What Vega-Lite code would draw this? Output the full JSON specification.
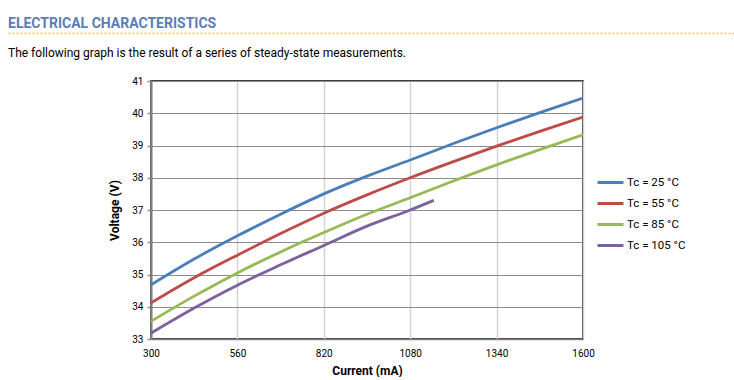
{
  "$schema": "https://vega.github.io/schema/vega-lite/v6.json",
  "padding": {"left": 8, "top": 17, "right": 0, "bottom": 0},
  "background": "white",
  "spacing": 13,
  "columns": 1,
  "config": {
    "font": "Roboto",
    "view": {"stroke": "#000000", "strokeWidth": 1.5},
    "axis": {"labelFont": "Roboto", "titleFont": "Roboto", "labelColor": "#000000", "titleColor": "#000000"}
  },
  "concat": [
    {
      "width": 726,
      "height": 1,
      "view": {"stroke": null},
      "title": {
        "text": "ELECTRICAL CHARACTERISTICS",
        "anchor": "start",
        "frame": "group",
        "baseline": "alphabetic",
        "offset": -9,
        "font": "Roboto",
        "fontSize": 14,
        "fontWeight": "bold",
        "color": "#5b7db8"
      },
      "data": {"values": []},
      "mark": {"type": "point", "opacity": 0},
      "encoding": {
        "x": {
          "field": "a",
          "type": "quantitative",
          "scale": {"domain": [0, 1]},
          "axis": {"orient": "top", "labels": false, "ticks": false, "grid": false, "title": null, "domainColor": "#f2c94c", "domainDash": [2, 2], "domainWidth": 1.5}
        }
      }
    },
    {
      "title": {
        "text": "The following graph is the result of a series of steady-state measurements.",
        "anchor": "start",
        "frame": "group",
        "baseline": "alphabetic",
        "offset": 6,
        "font": "Roboto",
        "fontSize": 12,
        "fontWeight": "normal",
        "color": "#000000"
      },
      "spacing": 20,
      "hconcat": [
        {
          "width": 80,
          "height": 1,
          "view": {"stroke": null},
          "data": {"values": []},
          "mark": {"type": "point", "opacity": 0},
          "encoding": {}
        },
        {
          "width": 432,
          "height": 258,
          "data": {
            "values": [
              {"current": 300, "voltage": 34.68, "series": "Tc = 25 °C"},
              {"current": 430, "voltage": 35.48, "series": "Tc = 25 °C"},
              {"current": 560, "voltage": 36.2, "series": "Tc = 25 °C"},
              {"current": 690, "voltage": 36.87, "series": "Tc = 25 °C"},
              {"current": 820, "voltage": 37.5, "series": "Tc = 25 °C"},
              {"current": 950, "voltage": 38.05, "series": "Tc = 25 °C"},
              {"current": 1080, "voltage": 38.55, "series": "Tc = 25 °C"},
              {"current": 1210, "voltage": 39.06, "series": "Tc = 25 °C"},
              {"current": 1340, "voltage": 39.55, "series": "Tc = 25 °C"},
              {"current": 1470, "voltage": 40.02, "series": "Tc = 25 °C"},
              {"current": 1600, "voltage": 40.47, "series": "Tc = 25 °C"},
              {"current": 300, "voltage": 34.12, "series": "Tc = 55 °C"},
              {"current": 430, "voltage": 34.9, "series": "Tc = 55 °C"},
              {"current": 560, "voltage": 35.6, "series": "Tc = 55 °C"},
              {"current": 690, "voltage": 36.27, "series": "Tc = 55 °C"},
              {"current": 820, "voltage": 36.9, "series": "Tc = 55 °C"},
              {"current": 950, "voltage": 37.47, "series": "Tc = 55 °C"},
              {"current": 1080, "voltage": 38.0, "series": "Tc = 55 °C"},
              {"current": 1210, "voltage": 38.5, "series": "Tc = 55 °C"},
              {"current": 1340, "voltage": 38.98, "series": "Tc = 55 °C"},
              {"current": 1470, "voltage": 39.44, "series": "Tc = 55 °C"},
              {"current": 1600, "voltage": 39.88, "series": "Tc = 55 °C"},
              {"current": 300, "voltage": 33.55, "series": "Tc = 85 °C"},
              {"current": 430, "voltage": 34.33, "series": "Tc = 85 °C"},
              {"current": 560, "voltage": 35.05, "series": "Tc = 85 °C"},
              {"current": 690, "voltage": 35.7, "series": "Tc = 85 °C"},
              {"current": 820, "voltage": 36.3, "series": "Tc = 85 °C"},
              {"current": 950, "voltage": 36.87, "series": "Tc = 85 °C"},
              {"current": 1080, "voltage": 37.38, "series": "Tc = 85 °C"},
              {"current": 1210, "voltage": 37.9, "series": "Tc = 85 °C"},
              {"current": 1340, "voltage": 38.4, "series": "Tc = 85 °C"},
              {"current": 1470, "voltage": 38.87, "series": "Tc = 85 °C"},
              {"current": 1600, "voltage": 39.33, "series": "Tc = 85 °C"},
              {"current": 300, "voltage": 33.18, "series": "Tc = 105 °C"},
              {"current": 430, "voltage": 33.96, "series": "Tc = 105 °C"},
              {"current": 560, "voltage": 34.67, "series": "Tc = 105 °C"},
              {"current": 690, "voltage": 35.3, "series": "Tc = 105 °C"},
              {"current": 820, "voltage": 35.9, "series": "Tc = 105 °C"},
              {"current": 950, "voltage": 36.5, "series": "Tc = 105 °C"},
              {"current": 1080, "voltage": 37.0, "series": "Tc = 105 °C"},
              {"current": 1151, "voltage": 37.3, "series": "Tc = 105 °C"}
            ]
          },
          "mark": {"type": "line", "strokeWidth": 2.8, "interpolate": "monotone", "clip": true},
          "encoding": {
            "x": {
              "field": "current",
              "type": "quantitative",
              "scale": {"domain": [300, 1600], "nice": false, "zero": false},
              "axis": {
                "values": [300, 560, 820, 1080, 1340, 1600],
                "format": "d",
                "labelFlush": false,
                "title": "Current (mA)",
                "titleFontSize": 12,
                "titleFontWeight": "bold",
                "titlePadding": 7,
                "labelFontSize": 10,
                "labelPadding": 9,
                "ticks": false,
                "grid": true,
                "gridColor": "#d4d4d4",
                "gridWidth": 1.5,
                "domainColor": "#7f7f7f",
                "domainWidth": 1.5
              }
            },
            "y": {
              "field": "voltage",
              "type": "quantitative",
              "scale": {"domain": [33, 41], "nice": false, "zero": false},
              "axis": {
                "values": [33, 34, 35, 36, 37, 38, 39, 40, 41],
                "labelFlush": false,
                "title": "Voltage (V)",
                "titleFontSize": 12,
                "titleFontWeight": "bold",
                "titlePadding": 10,
                "labelFontSize": 10,
                "labelPadding": 4,
                "ticks": true,
                "tickSize": 4,
                "tickColor": "#8c8c8c",
                "tickWidth": 1.5,
                "grid": true,
                "gridColor": "#8c8c8c",
                "gridWidth": 1.2,
                "domainColor": "#7f7f7f",
                "domainWidth": 2
              }
            },
            "color": {
              "field": "series",
              "type": "nominal",
              "scale": {
                "domain": ["Tc = 25 °C", "Tc = 55 °C", "Tc = 85 °C", "Tc = 105 °C"],
                "range": ["#4a7ebb", "#be4b48", "#98b954", "#7d60a0"]
              },
              "legend": {
                "title": null,
                "orient": "none",
                "legendX": 588,
                "legendY": 135,
                "symbolType": "stroke",
                "symbolSize": 676,
                "symbolStrokeWidth": 3,
                "labelFontSize": 11.5,
                "labelFont": "Roboto",
                "labelColor": "#000000",
                "labelOffset": 2,
                "rowPadding": -2.5
              }
            }
          }
        }
      ]
    }
  ]
}
